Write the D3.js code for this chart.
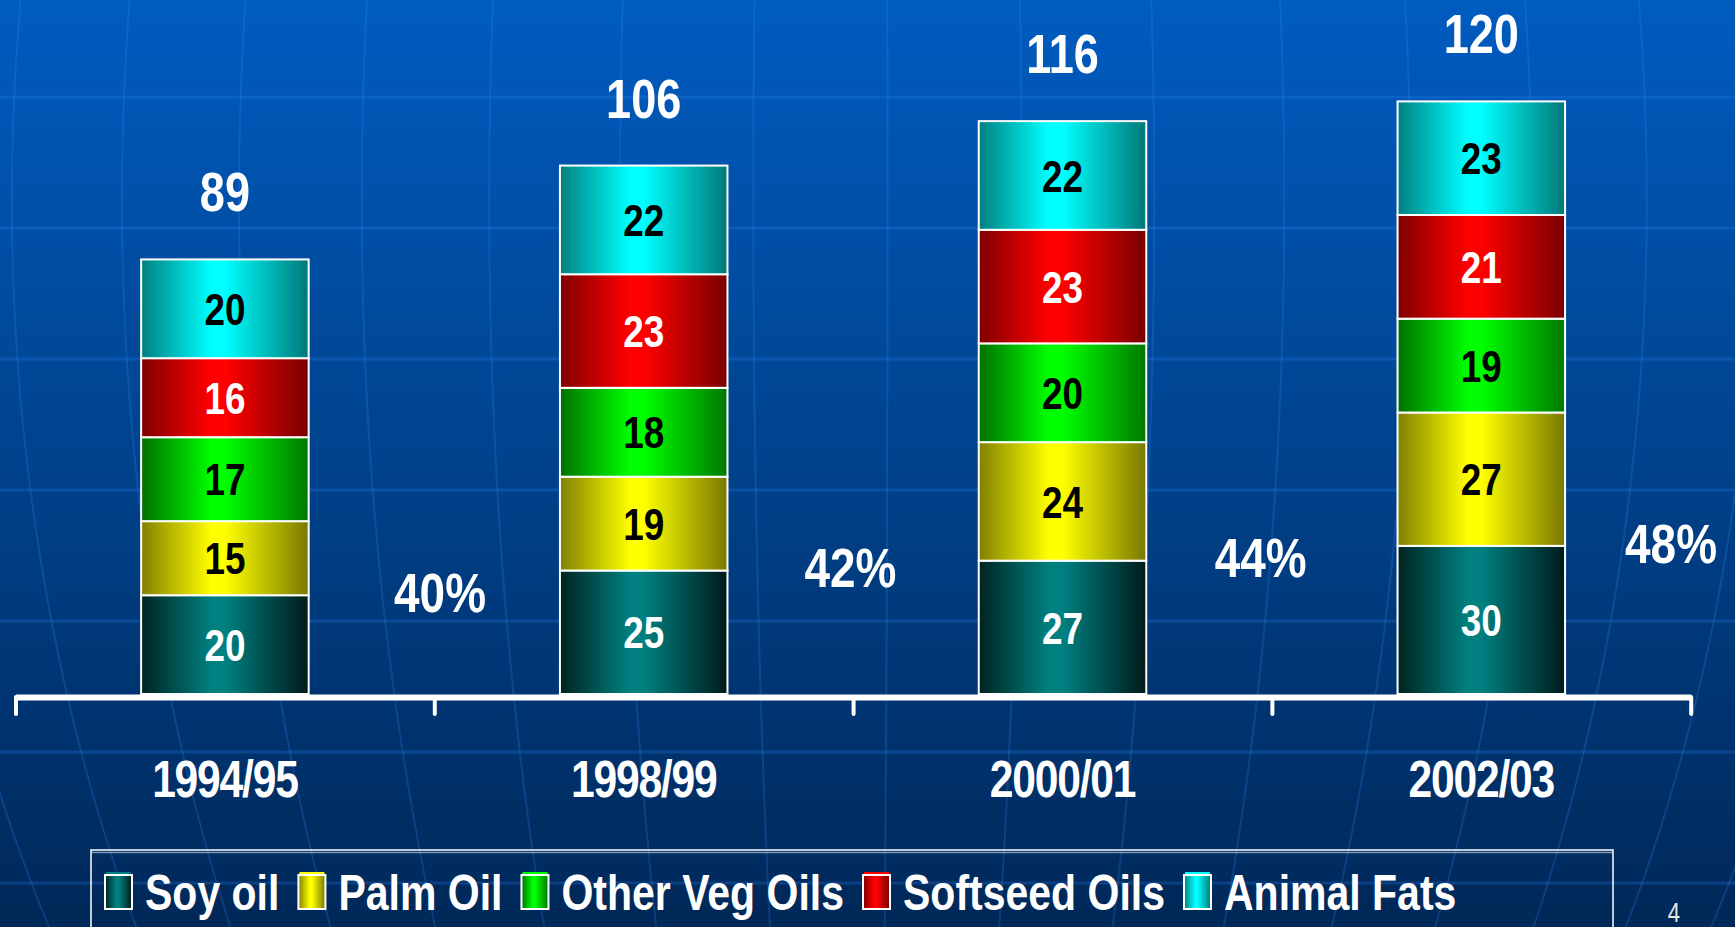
<!DOCTYPE html>
<html>
<head>
<meta charset="utf-8">
<script src="https://cdn.jsdelivr.net/npm/d3@7"></script>
<style>
html, body { margin: 0; padding: 0; background: #002a5a; overflow: hidden; }
svg { display: block; }
text { font-family: "Liberation Sans", Arial, sans-serif; font-weight: bold; }
</style>
</head>
<body>
<svg id="chart" width="1735" height="927"></svg>
<script>
// data
var categories = ["1994/95", "1998/99", "2000/01", "2002/03"];
var seriesNames = ["Soy oil", "Palm Oil", "Other Veg Oils", "Softseed Oils", "Animal Fats"];
var soyOil = [20, 25, 27, 30];
var palmOil = [15, 19, 24, 27];
var otherVegOils = [17, 18, 20, 19];
var softseedOils = [16, 23, 23, 21];
var animalFats = [20, 22, 22, 23];
var totals = [89, 106, 116, 120];
var shareLabels = ["40%", "42%", "44%", "48%"];

// look of each series: bright centre, dark edges, label colour
var brightColors = ["#008080", "#ffff00", "#00ff00", "#ff0000", "#00ffff"];
var leftColors = ["#002420", "#808000", "#007000", "#800000", "#008080"];
var rightColors = ["#001a1a", "#787800", "#007800", "#780000", "#007878"];
var labelColors = ["#fff", "#000", "#000", "#fff", "#000"];

// the slide font is a narrow bold sans: squeeze Liberation Sans Bold
var narrow = 0.82;

(function () {
  var svg = d3.select("#chart"),
    width = +svg.attr("width"),
    height = +svg.attr("height");

  function place(px, py) {
    return "translate(" + px + "," + py + ") scale(" + narrow + ",1)";
  }

  var defs = svg.append("defs");

  var bg = defs.append("linearGradient").attr("id", "bg")
    .attr("x1", 0).attr("y1", 0).attr("x2", 0).attr("y2", 1);
  bg.append("stop").attr("offset", 0).attr("stop-color", "#005cc0");
  bg.append("stop").attr("offset", 1).attr("stop-color", "#002858");

  seriesNames.forEach(function (s, i) {
    var g = defs.append("linearGradient").attr("id", "grad" + i)
      .attr("x1", 0).attr("y1", 0).attr("x2", 1).attr("y2", 0);
    g.append("stop").attr("offset", 0).attr("stop-color", leftColors[i]);
    g.append("stop").attr("offset", 0.42).attr("stop-color", brightColors[i]);
    g.append("stop").attr("offset", 0.5).attr("stop-color", brightColors[i]);
    g.append("stop").attr("offset", 1).attr("stop-color", rightColors[i]);
  });

  // background: gradient, straight grid and globe meridians
  svg.append("rect").attr("width", width).attr("height", height).attr("fill", "url(#bg)");

  svg.append("g").selectAll("line")
    .data(d3.range(97, height, 131))
    .enter().append("line")
    .attr("x1", 0).attr("x2", width)
    .attr("y1", function (d) { return d; })
    .attr("y2", function (d) { return d; })
    .attr("stroke", "#2f8cff").attr("stroke-opacity", 0.24).attr("stroke-width", 3);

  var globe = d3.geoOrthographic()
    .scale(1400)
    .translate([868, 200])
    .rotate([0, 0]);
  var geoPath = d3.geoPath(globe);
  var meridians = d3.range(-16, 17).map(function (k) {
    var lon = 0.8 + 5.5 * k;
    return {
      type: "LineString",
      coordinates: d3.range(-90, 90.5, 1).map(function (lat) { return [lon, lat]; })
    };
  });
  svg.append("g").selectAll("path")
    .data(meridians)
    .enter().append("path")
    .attr("d", geoPath)
    .attr("fill", "none")
    .attr("stroke", "#2f8cff").attr("stroke-opacity", 0.22).attr("stroke-width", 2);

  // scales
  var x = d3.scaleBand()
    .domain(categories)
    .range([15.5, 1690.7])
    .paddingInner(0.6)
    .paddingOuter(0.3);

  var xEdge = d3.scaleLinear()
    .domain([0, categories.length])
    .range([15.5, 1690.7]);

  // the share labels sit in the gaps, drifting a little left
  var xShare = d3.scaleLinear()
    .domain([0, shareLabels.length - 1])
    .range([440, 1671]);

  var y = d3.scaleLinear()
    .domain([0, 130])
    .range([694, 52]);

  var rows = categories.map(function (c, i) {
    var r = { category: c };
    r[seriesNames[0]] = soyOil[i];
    r[seriesNames[1]] = palmOil[i];
    r[seriesNames[2]] = otherVegOils[i];
    r[seriesNames[3]] = softseedOils[i];
    r[seriesNames[4]] = animalFats[i];
    return r;
  });

  var stacked = d3.stack().keys(seriesNames)(rows);

  var layers = svg.append("g").selectAll("g")
    .data(stacked)
    .enter().append("g")
    .attr("fill", function (d, i) { return "url(#grad" + i + ")"; });

  layers.selectAll("rect")
    .data(function (d) { return d; })
    .enter().append("rect")
    .attr("x", function (d) { return x(d.data.category); })
    .attr("y", function (d) { return y(d[1]); })
    .attr("width", x.bandwidth())
    .attr("height", function (d) { return y(d[0]) - y(d[1]); })
    .attr("stroke", "#fff")
    .attr("stroke-width", 2);

  // value inside each segment
  stacked.forEach(function (layer, i) {
    svg.append("g").selectAll("text")
      .data(layer)
      .enter().append("text")
      .attr("transform", function (d) {
        return place(x(d.data.category) + x.bandwidth() / 2, (y(d[0]) + y(d[1])) / 2);
      })
      .attr("dy", "0.36em")
      .attr("text-anchor", "middle")
      .attr("font-size", 45)
      .attr("fill", labelColors[i])
      .text(function (d) { return d[1] - d[0]; });
  });

  // totals above the bars
  svg.append("g").selectAll("text")
    .data(totals)
    .enter().append("text")
    .attr("transform", function (d, i) {
      var top = d3.sum(stacked, function (l) { return l[i][1] - l[i][0]; });
      return place(x(categories[i]) + x.bandwidth() / 2, y(top) - 48);
    })
    .attr("text-anchor", "middle")
    .attr("font-size", 55)
    .attr("fill", "#fff")
    .text(function (d) { return d; });

  // share labels beside each bar, level with the top of the soy segment
  svg.append("g").selectAll("text")
    .data(shareLabels)
    .enter().append("text")
    .attr("transform", function (d, i) { return place(xShare(i), y(soyOil[i])); })
    .attr("dy", "0.3em")
    .attr("text-anchor", "middle")
    .attr("font-size", 56)
    .attr("fill", "#fff")
    .text(function (d) { return d; });

  // axis with ticks on the category edges
  var axis = svg.append("g")
    .attr("transform", "translate(0,697)")
    .call(d3.axisBottom(xEdge)
      .tickValues(d3.range(0, categories.length + 1))
      .tickSizeInner(17)
      .tickSizeOuter(0)
      .tickFormat(""));
  axis.select(".domain").attr("stroke", "#fff").attr("stroke-width", 6);
  axis.selectAll(".tick line").attr("stroke", "#fff").attr("stroke-width", 4).attr("stroke-linecap", "round");

  svg.append("g").selectAll("text")
    .data(categories)
    .enter().append("text")
    .attr("transform", function (d) { return place(x(d) + x.bandwidth() / 2, 797); })
    .attr("text-anchor", "middle")
    .attr("font-size", 52)
    .attr("letter-spacing", "-1.5px")
    .attr("fill", "#fff")
    .text(function (d) { return d; });

  // legend
  var legend = svg.append("g");
  legend.append("rect")
    .attr("x", 91).attr("y", 850).attr("width", 1522).attr("height", 120)
    .attr("fill", "none").attr("stroke", "#fff").attr("stroke-width", 1.5);
  legend.append("line")
    .attr("x1", 91).attr("x2", 1613).attr("y1", 852.5).attr("y2", 852.5)
    .attr("stroke", "#fff").attr("stroke-opacity", 0.5).attr("stroke-width", 1.5);

  var lx = 105;
  seriesNames.forEach(function (s, i) {
    legend.append("rect")
      .attr("x", lx).attr("y", 875).attr("width", 27).attr("height", 34)
      .attr("fill", "url(#grad" + i + ")")
      .attr("stroke", "#fff").attr("stroke-width", 2);
    legend.append("line")
      .attr("x1", lx + 1).attr("x2", lx + 26).attr("y1", 873).attr("y2", 873)
      .attr("stroke", brightColors[i]).attr("stroke-width", 2);
    var t = legend.append("text")
      .attr("transform", place(lx + 40, 910))
      .attr("font-size", 50)
      .attr("fill", "#fff")
      .text(s);
    lx += 40 + t.node().getComputedTextLength() * narrow + 19;
  });

  svg.append("text")
    .attr("transform", place(1674, 922))
    .attr("text-anchor", "middle")
    .attr("font-size", 27)
    .style("font-weight", "normal")
    .attr("fill", "#e6e6e6")
    .text("4");
})();
</script>
</body>
</html>
